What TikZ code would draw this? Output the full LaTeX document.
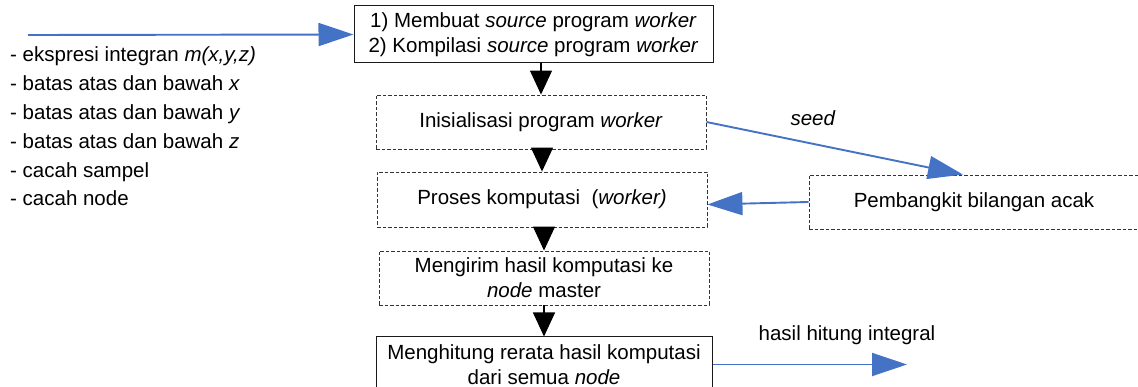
\documentclass[tikz,border=0pt]{standalone}
\usepackage{fontspec}
\setmainfont{Liberation Sans}
\usetikzlibrary{arrows.meta}
\definecolor{flowblue}{HTML}{4472C4}
\tikzset{
  txt/.style={font=\fontsize{20.5}{25}\selectfont, align=center, inner sep=0pt},
  solidbox/.style={txt, draw=black!90, line width=1pt},
  dashbox/.style={txt, draw=black!80, line width=0.9pt, dash pattern=on 3.5pt off 2pt},
  flow/.style={draw=black, line width=1.2pt, -{Triangle[length=24pt,width=22pt]}},
  bluearrow/.style={draw=flowblue, line width=1.9pt, -{Triangle[length=35pt,width=23pt]}},
}
\begin{document}
\begin{tikzpicture}[x=1pt,y=-1pt]
\useasboundingbox (0,0) rectangle (1138,387);
\clip (0,0) rectangle (1138,387);

% main process chain
\node[solidbox, minimum width=359pt, minimum height=57pt] (b1) at (533.5,34.5)
  {1) Membuat \textit{source} program \textit{worker}\\2) Kompilasi \textit{source} program \textit{worker}};
\node[dashbox, minimum width=330pt, minimum height=54pt] (b2) at (541,122)
  {Inisialisasi program \textit{worker}};
\node[dashbox, minimum width=330pt, minimum height=55pt] (b3) at (542,199.5)
  {Proses komputasi\ \ (\textit{worker)}};
\node[dashbox, minimum width=330pt, minimum height=54pt] (b4) at (544,278)
  {Mengirim hasil komputasi ke\\\textit{node} master};
\node[solidbox, minimum width=336pt, minimum height=55pt] (b5) at (544,364.5)
  {Menghitung rerata hasil komputasi\\dari semua \textit{node}};
\node[dashbox, minimum width=330pt, minimum height=54pt] (b6) at (974,202)
  {Pembangkit bilangan acak};

% input list
\foreach \t [count=\i from 0] in {
  {- ekspresi integran \textit{m(x,y,z)}},
  {- batas atas dan bawah \textit{x}},
  {- batas atas dan bawah \textit{y}},
  {- batas atas dan bawah \textit{z}},
  {- cacah sampel},
  {- cacah node}}
  \node[txt, anchor=base west] (in\i) at (10,62+28.8*\i) {\t};

% connectors
\coordinate (src) at (28,35);
\draw[bluearrow] (src) -- (b1.west);

\draw[flow] (b1.south -| b2.north) -- (b2.north);
\draw[flow] (b2.south -| b3.north) -- (b3.north);
\draw[flow] (b3.south -| b4.north) -- (b4.north);
\draw[flow] (b4.south -| b5.north) -- (b5.north);

\draw[bluearrow] (b2.east) -- ([xshift=-11pt]b6.north);
\node[txt] (seedlbl) at (813,118) {\textit{seed}};

\draw[bluearrow] (b6.west) -- ([yshift=-5pt]b3.east);

\coordinate (out) at (907,364.5);
\draw[bluearrow] (b5.east) -- (out);
\node[txt] (outlbl) at (847,335) {hasil hitung integral};
\end{tikzpicture}
\end{document}
